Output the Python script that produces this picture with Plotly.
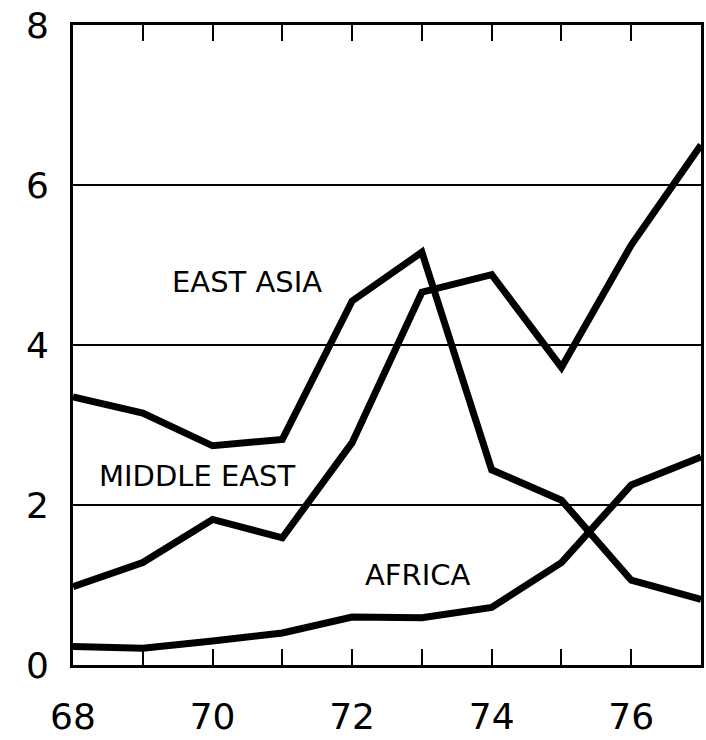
import plotly.graph_objects as go

years = [68, 69, 70, 71, 72, 73, 74, 75, 76, 77]
east_asia = [3.35, 3.15, 2.74, 2.82, 4.55, 5.16, 2.44, 2.06, 1.06, 0.82]
middle_east = [0.98, 1.28, 1.82, 1.59, 2.78, 4.66, 4.88, 3.72, 5.25, 6.5]
africa = [0.23, 0.21, 0.30, 0.40, 0.60, 0.59, 0.72, 1.28, 2.25, 2.6]

x_tickvals = years
x_ticktext = ["68", "", "70", "", "72", "", "74", "", "76", ""]
y_tickvals = [0, 2, 4, 6, 8]
y_ticktext = ["0", "2", "4", "6", "8"]

labels = [("EAST ASIA", 70.49, 4.79), ("MIDDLE EAST", 69.78, 2.36), ("AFRICA", 72.94, 1.13)]

FONT = "DejaVu Sans"

fig = go.Figure()
for ys in (east_asia, middle_east, africa):
    fig.add_trace(go.Scatter(x=years, y=ys, mode="lines",
                             line=dict(color="black", width=7),
                             showlegend=False, hoverinfo="skip"))

for text, x, y in labels:
    fig.add_annotation(x=x, y=y, text=text, showarrow=False,
                       font=dict(family=FONT, size=29, color="black"))

fig.update_layout(
    width=706, height=740,
    margin=dict(l=73, r=5, t=25, b=75),
    paper_bgcolor="white", plot_bgcolor="white",
    font=dict(family=FONT, color="black"),
)
fig.update_xaxes(
    range=[68, 77], tickvals=x_tickvals, ticktext=x_ticktext,
    ticks="inside", ticklen=16, tickwidth=2, tickcolor="black",
    showline=True, linewidth=3, linecolor="black", mirror="ticks",
    showgrid=False, zeroline=False, automargin=False,
    tickfont=dict(family=FONT, size=36, color="black"),
    ticklabelstandoff=18, ticklabeloverflow="allow",
)
fig.update_yaxes(
    range=[0, 8], tickvals=y_tickvals, ticktext=y_ticktext,
    ticks="", showline=True, linewidth=3, linecolor="black", mirror=True,
    showgrid=True, gridcolor="black", gridwidth=1.5, zeroline=False,
    automargin=False,
    tickfont=dict(family=FONT, size=36, color="black"),
    ticklabelstandoff=14, ticklabeloverflow="allow",
)

fig.write_html("out.html", config={"displayModeBar": False},
               post_script="document.body.style.margin='0';")
